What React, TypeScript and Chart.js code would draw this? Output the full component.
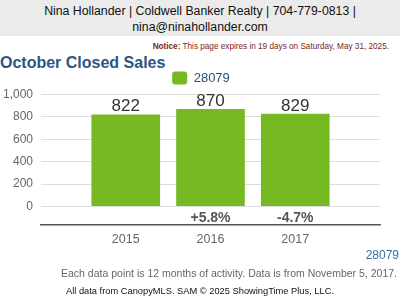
import React, { useEffect, useRef } from "react";
import { Chart, registerables } from "chart.js";

Chart.register(...registerables);

const years = ["", "2015", "2016", "2017", ""];
const closedSales = [null, 822, 870, 829, null];
const pctLabels = ["", "", "+5.8%", "-4.7%", ""];
const seriesName = "28079";
const yTicks = [0, 200, 400, 600, 800, 1000];

const FONT = "'Liberation Sans', Arial, sans-serif";

export default function App() {
  const ref = useRef<HTMLCanvasElement | null>(null);

  useEffect(() => {
    document.body.style.margin = "0";
    const canvas = ref.current;
    if (!canvas) return;

    const labelsPlugin = {
      id: "barLabels",
      afterLayout(chart: any) {
        if (chart.legend) {
          chart.legend.left += 11;
          chart.legend.right += 11;
        }
      },
      afterDatasetsDraw(chart: any) {
        const ctx = chart.ctx;
        const meta = chart.getDatasetMeta(0);
        const yScale = chart.scales.y;
        const zeroY = yScale.getPixelForValue(0);
        const bottom = chart.chartArea.bottom;
        ctx.save();
        ctx.textAlign = "center";
        meta.data.forEach((bar: any, i: number) => {
          const v = closedSales[i];
          if (v == null) return;
          ctx.font = `17px ${FONT}`;
          ctx.fillStyle = "#333333";
          ctx.textBaseline = "alphabetic";
          ctx.fillText(String(v), bar.x, bar.y - 3);
          const p = pctLabels[i];
          if (p) {
            ctx.font = `bold 14px ${FONT}`;
            ctx.fillStyle = "#555555";
            ctx.textBaseline = "middle";
            ctx.fillText(p, bar.x, (zeroY + bottom) / 2 + 2.5);
          }
        });
        ctx.restore();
      },
    };

    const chart = new Chart(canvas, {
      type: "bar",
      data: {
        labels: years,
        datasets: [
          {
            label: seriesName,
            data: closedSales,
            backgroundColor: "#77b922",
            borderWidth: 0,
            barPercentage: 0.81,
            categoryPercentage: 1,
          },
        ],
      },
      options: {
        animation: false,
        responsive: false,
        maintainAspectRatio: false,
        layout: { padding: { left: 0, right: 20, top: 0, bottom: 0 } },
        plugins: {
          legend: {
            display: true,
            labels: {
              boxWidth: 15,
              boxHeight: 13,
              color: "#2b4f7c",
              font: { family: FONT, size: 13 },
              padding: 3.5,
              useBorderRadius: true,
              borderRadius: 3,
            },
          },
          tooltip: { enabled: false },
        },
        scales: {
          x: {
            type: "category",
            offset: false,
            grid: { display: false, drawTicks: false },
            border: { display: true, color: "#555555", width: 1.5 },
            ticks: {
              color: "#666666",
              font: { family: FONT, size: 12.5 },
              padding: 7,
              autoSkip: false,
              maxRotation: 0,
            },
          },
          y: {
            min: -165,
            max: 1000,
            afterBuildTicks(scale: any) {
              scale.ticks = yTicks.map((v) => ({ value: v }));
            },
            afterFit(scale: any) {
              scale.width = 41;
            },
            grid: { color: "#dddddd", drawTicks: false },
            border: { display: false },
            ticks: {
              color: "#666666",
              font: { family: FONT, size: 12 },
              padding: 8,
              callback: (v: any) => Number(v).toLocaleString("en-US"),
            },
          },
        },
      },
      plugins: [labelsPlugin],
    });
    return () => chart.destroy();
  }, []);

  return (
    <div style={{ position: "relative", width: 400, height: 300, fontFamily: FONT, overflow: "hidden", background: "#fff" }}>
      <div
        style={{
          position: "absolute",
          left: 0,
          top: 0,
          width: 400,
          height: 36,
          background: "#ebebeb",
          color: "#111",
          fontSize: 12.3,
          lineHeight: "16px",
          textAlign: "center",
          paddingTop: 3,
          boxSizing: "border-box",
        }}
      >
        Nina Hollander | Coldwell Banker Realty | 704-779-0813 |<br />
        nina@ninahollander.com
      </div>
      <div style={{ position: "absolute", right: 11, top: 42, fontSize: 8.2, color: "#7a1e1e", whiteSpace: "nowrap" }}>
        <b>Notice:</b> This page expires in 19 days on Saturday, May 31, 2025.
      </div>
      <div style={{ position: "absolute", left: 0, top: 54, fontSize: 16, fontWeight: "bold", color: "#2c5684", whiteSpace: "nowrap" }}>
        October Closed Sales
      </div>
      <canvas ref={ref} width={400} height={186} style={{ position: "absolute", left: 0, top: 67.5, width: 400, height: 186 }} />
      <div style={{ position: "absolute", right: 1, top: 248, fontSize: 12, color: "#3b6ea8" }}>28079</div>
      <div style={{ position: "absolute", right: 3, top: 267, fontSize: 10.5, color: "#666", whiteSpace: "nowrap" }}>
        Each data point is 12 months of activity. Data is from November 5, 2017.
      </div>
      <div style={{ position: "absolute", left: 0, width: 400, textAlign: "center", top: 286, fontSize: 9.3, color: "#111", whiteSpace: "nowrap" }}>
        All data from CanopyMLS. SAM © 2025 ShowingTime Plus, LLC.
      </div>
    </div>
  );
}
